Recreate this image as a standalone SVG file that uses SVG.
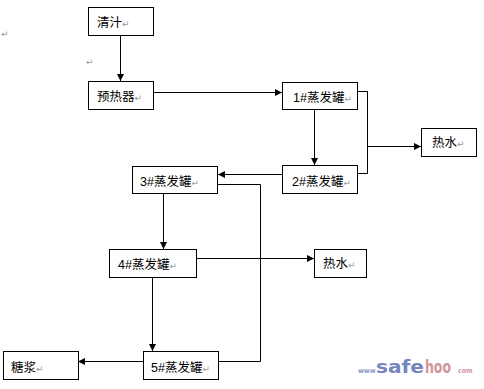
<svg xmlns="http://www.w3.org/2000/svg" width="484" height="389" viewBox="0 0 484 389">
<style>
.box{fill:#fff;stroke:#000;stroke-width:1}
.lbl{font-family:"Liberation Sans","Noto Sans CJK SC",sans-serif;font-size:12.5px;fill:#000}
.pm{font-family:"DejaVu Sans",sans-serif;font-size:9px;fill:#999}
.ln{fill:none;stroke:#000;stroke-width:1}
</style>
<defs>
<marker id="ah" markerUnits="userSpaceOnUse" markerWidth="7" markerHeight="7" refX="7" refY="3.5" orient="auto">
<path d="M0,0 L7,3.5 L0,7 z" fill="#000"/>
</marker>
</defs>
<rect width="484" height="389" fill="#fff"/>
<text class="pm" x="1" y="37">↵</text>
<text class="pm" x="86" y="65">↵</text>
<g id="connectors">
<path class="ln" d="M120.5,35 V81" marker-end="url(#ah)"/>
<path class="ln" d="M153,92.5 H282" marker-end="url(#ah)"/>
<path class="ln" d="M314.5,109 V165" marker-end="url(#ah)"/>
<path class="ln" d="M357,91.5 H367.5 V173.5 H357"/>
<path class="ln" d="M367.5,146.5 H421" marker-end="url(#ah)"/>
<path class="ln" d="M282,174.5 H218" marker-end="url(#ah)"/>
<path class="ln" d="M217,184.5 H260.5 V361.5 H218"/>
<path class="ln" d="M163.5,193 V249" marker-end="url(#ah)"/>
<path class="ln" d="M196,258.5 H314" marker-end="url(#ah)"/>
<path class="ln" d="M152.5,277 V351" marker-end="url(#ah)"/>
<path class="ln" d="M143,361.5 H78" marker-end="url(#ah)"/>
</g>
<g id="qingzhi"><rect class="box" x="88.5" y="7.5" width="65" height="28"/><text class="lbl" x="97" y="27">清汁<tspan class="pm">↵</tspan></text></g>
<g id="yureqi"><rect class="box" x="88.5" y="81.5" width="65" height="28"/><text class="lbl" x="97" y="101">预热器<tspan class="pm">↵</tspan></text></g>
<g id="e1"><rect class="box" x="282.5" y="82.5" width="75" height="27"/><text class="lbl" x="293" y="102">1#蒸发罐<tspan class="pm">↵</tspan></text></g>
<g id="e2"><rect class="box" x="282.5" y="165.5" width="75" height="28"/><text class="lbl" x="292" y="186">2#蒸发罐<tspan class="pm">↵</tspan></text></g>
<g id="reshui1"><rect class="box" x="421.5" y="128.5" width="55" height="28"/><text class="lbl" x="432" y="147">热水<tspan class="pm">↵</tspan></text></g>
<g id="e3"><rect class="box" x="132.5" y="166.5" width="85" height="27"/><text class="lbl" x="140" y="186">3#蒸发罐<tspan class="pm">↵</tspan></text></g>
<g id="e4"><rect class="box" x="109.5" y="249.5" width="87" height="28"/><text class="lbl" x="118" y="269">4#蒸发罐<tspan class="pm">↵</tspan></text></g>
<g id="reshui2"><rect class="box" x="314.5" y="249.5" width="52" height="28"/><text class="lbl" x="323" y="268">热水<tspan class="pm">↵</tspan></text></g>
<g id="e5"><rect class="box" x="143.5" y="351.5" width="75" height="28"/><text class="lbl" x="151" y="372">5#蒸发罐<tspan class="pm">↵</tspan></text></g>
<g id="tangjiang"><rect class="box" x="3.5" y="351.5" width="75" height="28"/><text class="lbl" x="11" y="372">糖浆<tspan class="pm">↵</tspan></text></g>
<g id="watermark">
<text y="373" font-family="'DejaVu Sans Condensed','Liberation Sans',sans-serif" font-weight="bold"><tspan x="358" font-size="7" fill="#8a96c4">www</tspan><tspan x="376" font-size="17" fill="#7585bd" textLength="48" lengthAdjust="spacingAndGlyphs">safe</tspan><tspan x="425" font-size="17" fill="#d0959c" textLength="26" lengthAdjust="spacingAndGlyphs">hoo</tspan><tspan x="458" font-size="7" fill="#d0959c">com</tspan></text>
</g>
</svg>
